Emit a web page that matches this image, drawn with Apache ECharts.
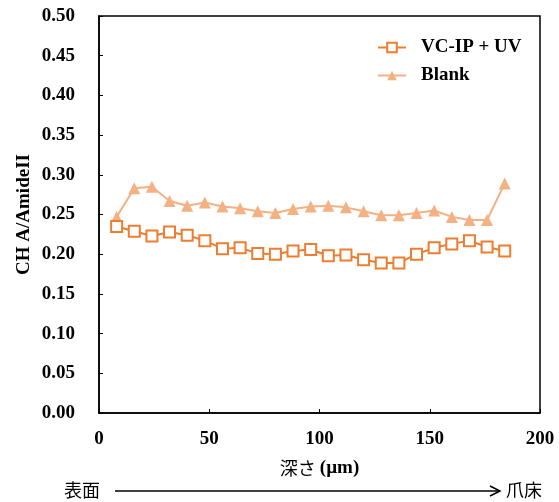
<!DOCTYPE html>
<html>
<head>
<meta charset="utf-8">
<script src="https://cdn.jsdelivr.net/npm/echarts@6/dist/echarts.min.js"></script>
<style>html,body{margin:0;padding:0;background:#fff}#c{width:559px;height:502px}</style>
</head>
<body>
<div id="c"></div>
<script>
const depth = [8,16,24,32,40,48,56,64,72,80,88,96,104,112,120,128,136,144,152,160,168,176,184];
const vcipUV = [0.235,0.229,0.223,0.228,0.224,0.217,0.207,0.208,0.201,0.200,0.204,0.206,0.198,0.199,0.193,0.189,0.189,0.200,0.208,0.213,0.217,0.209,0.204];
const blank  = [0.247,0.283,0.285,0.267,0.261,0.265,0.260,0.258,0.254,0.252,0.257,0.260,0.261,0.259,0.254,0.249,0.249,0.252,0.255,0.247,0.243,0.243,0.289];
const seriesNames = ['VC-IP + UV','Blank'];
const xTitle = '深さ';
const xUnit = '(µm)';
const yTitle = 'CH A/AmideII';
const leftLabel = '表面';
const rightLabel = '爪床';

const serif = '"Liberation Serif","Times New Roman",serif';
const cjk = '"Noto Sans CJK JP",sans-serif';

const chart = echarts.init(document.getElementById('c'), null, {renderer:'canvas'});
chart.setOption({
  animation:false,
  backgroundColor:'#fff',
  grid:{left:99, top:16, right:19, height:397, show:true, borderColor:'#000', borderWidth:1.5, backgroundColor:'transparent'},
  legend:{
    orient:'vertical', left:372, top:33, itemWidth:28, itemHeight:12, itemGap:9,
    data:seriesNames,
    textStyle:{fontFamily:serif, fontWeight:'bold', fontSize:19, color:'#000', padding:[0,0,0,10]}
  },
  xAxis:{
    type:'value', min:0, max:200, interval:50,
    axisLine:{show:true, lineStyle:{color:'#000', width:1.5}},
    axisTick:{show:true, inside:true, length:4, lineStyle:{color:'#000'}},
    splitLine:{show:false},
    axisLabel:{fontFamily:serif, fontWeight:'bold', fontSize:19, color:'#000', margin:17},
    name: '{a|'+xTitle+' }{b|'+xUnit+'}',
    nameLocation:'middle', nameGap:46, nameMoveOverlap:false,
    nameTextStyle:{rich:{a:{fontFamily:cjk, fontSize:18, color:'#000'}, b:{fontFamily:serif, fontWeight:'bold', fontSize:19, color:'#000'}}}
  },
  yAxis:{
    type:'value', min:0, max:0.5, interval:0.05,
    axisLine:{show:true, lineStyle:{color:'#000', width:1.5}},
    axisTick:{show:true, inside:true, length:4, lineStyle:{color:'#000'}},
    splitLine:{show:false},
    axisLabel:{fontFamily:serif, fontWeight:'bold', fontSize:19, color:'#000', margin:24, formatter:v=>v.toFixed(2)},
    name:yTitle, nameLocation:'middle', nameGap:65, nameRotate:90, nameMoveOverlap:false,
    nameTextStyle:{fontFamily:serif, fontWeight:'bold', fontSize:19, color:'#000'}
  },
  series:[
    {
      name:seriesNames[0], type:'line',
      data:depth.map((d,i)=>[d,vcipUV[i]]),
      color:'#ED7D31',
      symbol:'rect', symbolSize:11,
      lineStyle:{color:'#ED7D31', width:2},
      itemStyle:{color:'#fff', borderColor:'#ED7D31', borderWidth:2},
      z:3
    },
    {
      name:seriesNames[1], type:'line',
      data:depth.map((d,i)=>[d,blank[i]]),
      color:'#F4B183',
      symbol:'triangle', symbolSize:12,
      lineStyle:{color:'#F4B183', width:2},
      itemStyle:{color:'#F4B183'},
      z:2
    }
  ],
  graphic:[
    {type:'text', left:64, top:481, style:{text:leftLabel, font:'18px '+cjk, fill:'#000'}},
    {type:'line', shape:{x1:115, y1:491, x2:500, y2:491}, style:{stroke:'#000', lineWidth:1.5}},
    {type:'polyline', shape:{points:[[490,486],[500,491],[490,496]]}, style:{stroke:'#000', lineWidth:1.5, fill:null}},
    {type:'text', left:506, top:481, style:{text:rightLabel, font:'18px '+cjk, fill:'#000'}}
  ]
});
</script>
</body>
</html>
